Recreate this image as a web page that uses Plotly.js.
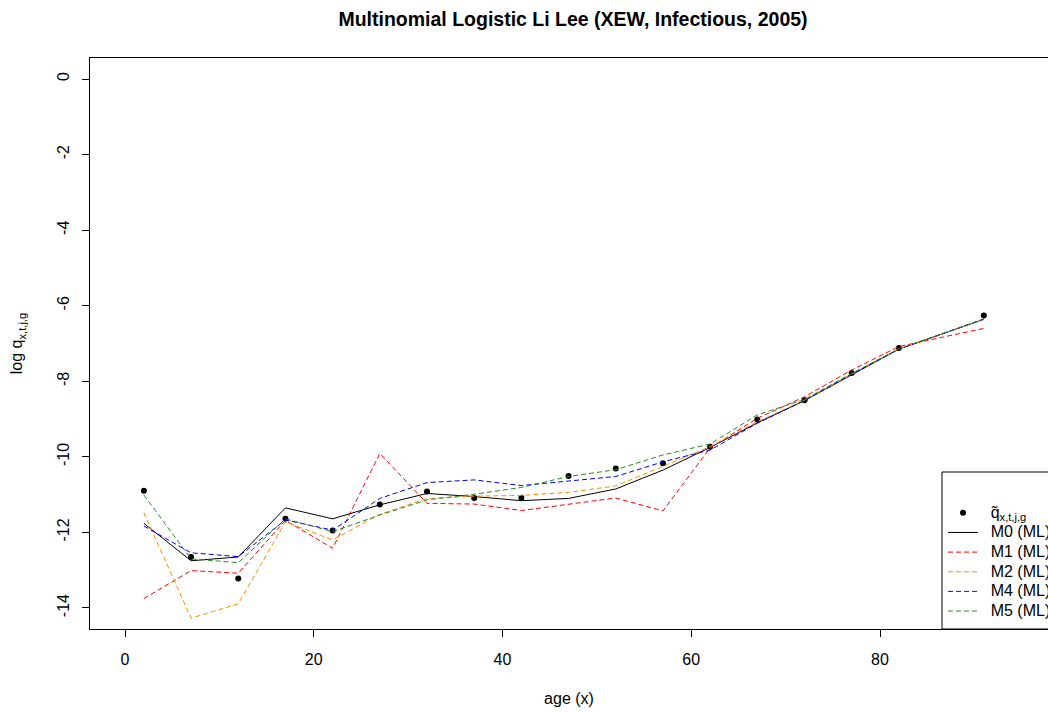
<!DOCTYPE html>
<html>
<head>
<meta charset="utf-8">
<script src="https://cdn.plot.ly/plotly-3.0.1.min.js"></script>
<style>html,body{margin:0;padding:0;background:#fff;}#chart{width:1048px;height:713px;}</style>
</head>
<body>
<div id="chart"></div>
<script>
// Ages (x)
const ages = [2, 7, 12, 17, 22, 27, 32, 37, 42, 47, 52, 57, 62, 67, 72, 77, 82, 91];
// Observed log q
const observed = [-10.90, -12.65, -13.22, -11.64, -11.95, -11.26, -10.92, -11.09, -11.08, -10.51, -10.31, -10.17, -9.73, -9.01, -8.50, -7.78, -7.12, -6.26];
// Fitted models
const m0 = [-11.76, -12.75, -12.65, -11.35, -11.64, -11.27, -10.97, -11.05, -11.16, -11.10, -10.85, -10.35, -9.75, -9.10, -8.51, -7.83, -7.15, -6.36];
const m1 = [-13.75, -13.01, -13.08, -11.68, -12.42, -9.91, -11.23, -11.25, -11.42, -11.26, -11.09, -11.43, -9.76, -8.98, -8.41, -7.70, -7.08, -6.60];
const m2 = [-11.48, -14.27, -13.89, -11.72, -12.20, -11.52, -11.10, -11.04, -11.02, -10.94, -10.77, -10.26, -9.73, -9.07, -8.50, -7.81, -7.14, -6.36];
const m4 = [-11.83, -12.54, -12.64, -11.67, -11.94, -11.10, -10.68, -10.61, -10.76, -10.64, -10.52, -10.13, -9.82, -9.11, -8.51, -7.81, -7.15, -6.35];
const m5 = [-11.01, -12.70, -12.80, -11.64, -11.98, -11.54, -11.14, -10.99, -10.81, -10.52, -10.34, -9.95, -9.66, -8.89, -8.48, -7.79, -7.14, -6.36];

const seriesNames = ['M0 (ML)', 'M1 (ML)', 'M2 (ML)', 'M4 (ML)', 'M5 (ML)'];
const obsName = 'q̃<sub>x,t,j,g</sub>';
const xTickVals = [0, 20, 40, 60, 80];
const xTickText = ['0', '20', '40', '60', '80'];
const yTickVals = [0, -2, -4, -6, -8, -10, -12, -14];
const yTickText = ['0', '-2', '-4', '-6', '-8', '-10', '-12', '-14'];

const FONT = 'Liberation Sans, Arial, Helvetica, sans-serif';
const dash = '5px,3px';
const legName = (s) => '<span style="font-size:16px">\u00A0\u2009' + s + '</span>';

const traces = [
  {x: ages, y: observed, mode: 'markers', type: 'scatter', name: legName(obsName),
   marker: {color: 'black', size: 6}},
  {x: ages, y: m0, mode: 'lines', type: 'scatter', name: legName(seriesNames[0]),
   line: {color: '#000000', width: 1}},
  {x: ages, y: m1, mode: 'lines', type: 'scatter', name: legName(seriesNames[1]),
   line: {color: '#FF0000', width: 1, dash: dash}},
  {x: ages, y: m2, mode: 'lines', type: 'scatter', name: legName(seriesNames[2]),
   line: {color: '#FF8C00', width: 1, dash: dash}},
  {x: ages, y: m4, mode: 'lines', type: 'scatter', name: legName(seriesNames[3]),
   line: {color: '#0000FF', width: 1, dash: dash}},
  {x: ages, y: m5, mode: 'lines', type: 'scatter', name: legName(seriesNames[4]),
   line: {color: '#228B22', width: 1, dash: dash}}
];

const W = 1048, H = 713;
const mL = 90, mT = 58, mB = 84, mR = 0;
const pw = W - mL - mR, ph = H - mT - mB;
const px2x = (p) => (p - mL) / pw;
const px2y = (p) => (H - mB - p) / ph;

const layout = {
  width: W, height: H,
  paper_bgcolor: '#fff', plot_bgcolor: '#fff',
  font: {family: FONT, color: '#000', size: 16},
  margin: {l: mL, r: mR, t: mT, b: mB, autoexpand: false},
  title: {text: '<b>Multinomial Logistic Li Lee (XEW, Infectious, 2005)</b>',
          font: {family: FONT, size: 19.5, color: '#000'},
          xref: 'container', x: 573 / W, xanchor: 'center',
          yref: 'container', y: 1 - 19 / H, yanchor: 'middle'},
  xaxis: {
    range: [-3.709, 97.80], tickmode: 'array', tickvals: xTickVals, ticktext: xTickText,
    ticks: 'outside', ticklen: 7, tickcolor: '#000', tickwidth: 1,
    showline: true, linecolor: '#000', linewidth: 1, mirror: true,
    showgrid: false, zeroline: false, automargin: false,
    tickfont: {family: FONT, size: 16, color: '#000'},
    ticklabelstandoff: 9,
    title: {text: 'age (x)', font: {family: FONT, size: 16, color: '#000'}, standoff: 25}
  },
  yaxis: {
    range: [-14.556, 0.556], tickmode: 'array', tickvals: yTickVals, ticktext: yTickText,
    ticks: 'outside', ticklen: 7, tickcolor: '#000', tickwidth: 1, tickangle: -90,
    showline: true, linecolor: '#000', linewidth: 1, mirror: false,
    showgrid: false, zeroline: false, automargin: false,
    tickfont: {family: FONT, size: 16, color: '#000'},
    ticklabelstandoff: 7,
    title: {text: 'log q<sub>x,t,j,g</sub>', font: {family: FONT, size: 16, color: '#000'}, standoff: 27}
  },
  showlegend: true,
  legend: {
    x: px2x(943), y: px2y(498), xanchor: 'left', yanchor: 'top',
    bgcolor: 'rgba(0,0,0,0)', borderwidth: 0,
    font: {family: FONT, size: 12.8, color: '#000'},
    tracegroupgap: 0, itemwidth: 30
  },
  shapes: [
    {type: 'rect', xref: 'paper', yref: 'paper',
     x0: px2x(942), x1: px2x(1060), y0: px2y(629), y1: px2y(472),
     line: {color: '#000', width: 1}, fillcolor: '#fff', layer: 'above'}
  ]
};

Plotly.newPlot('chart', traces, layout, {displayModeBar: false, staticPlot: true});
</script>
</body>
</html>
